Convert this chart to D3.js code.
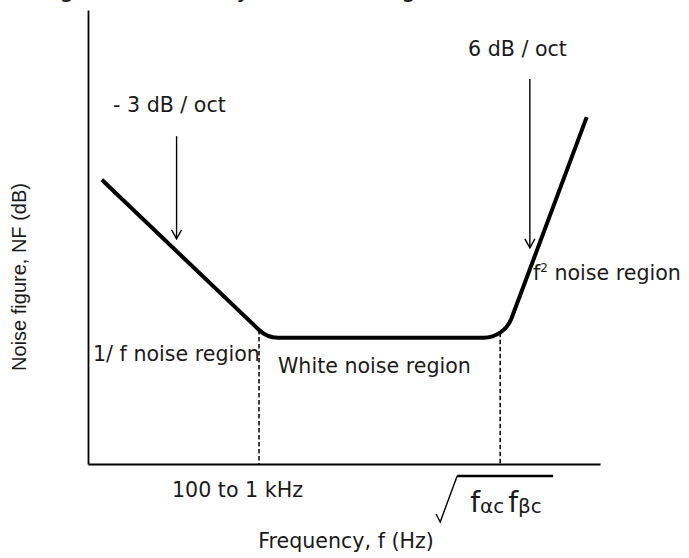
<!DOCTYPE html>
<html>
<head>
<meta charset="utf-8">
<script src="https://cdn.jsdelivr.net/npm/d3@7"></script>
<style>
  body { margin: 0; background: #fff; }
  text { font-family: "DejaVu Sans", Verdana, sans-serif; fill: #1a1a1a; }
</style>
</head>
<body>
<script>
// knees of the noise-figure curve (relative log-frequency, relative NF)
var curveX = [2.7, 35, 81.3, 97.4];
var curveY = [62.6, 27.8, 27.8, 76.4];
// corner frequencies marked with dashed drop lines
var cornerX = [33.4, 80.5];
var cornerLabels = ["100 to 1 kHz", "sqrt"];
// slope annotations: [x, yFrom, yTo]
var slopeArrows = [[17.3, 72.2, 49.6], [86.3, 84.8, 47.6]];
var slopeLabels = ["- 3 dB / oct", "6 dB / oct"];

var width = 689, height = 558;
var margin = { top: 10, right: 89, bottom: 94, left: 88 };

var x = d3.scaleLinear().domain([0, 100]).range([margin.left, width - margin.right]);
var y = d3.scaleLinear().domain([0, 100]).range([height - margin.bottom, margin.top]);

var svg = d3.select("body").append("svg")
    .attr("width", width)
    .attr("height", height);

// cropped caption from the page above, only the descenders show
svg.append("text")
    .attr("x", -30).attr("y", -3)
    .style("font-size", "24px")
    .text("Noise figure, NF and by the noise region");

// axes, no ticks
svg.append("g")
    .attr("transform", "translate(0," + y(0) + ")")
    .call(d3.axisBottom(x).tickValues([]).tickSizeOuter(0))
    .select(".domain").attr("stroke", "#000").attr("stroke-width", 1.8);

svg.append("g")
    .attr("transform", "translate(" + x(0) + ",0)")
    .call(d3.axisLeft(y).tickValues([]).tickSizeOuter(0))
    .select(".domain").attr("stroke", "#000").attr("stroke-width", 1.8);

// curve with rounded knees
var pts = curveX.map(function (d, i) { return [x(d), y(curveY[i])]; });
var p = d3.path();
p.moveTo(pts[0][0], pts[0][1]);
p.arcTo(pts[1][0], pts[1][1], pts[2][0], pts[2][1], 27);
p.arcTo(pts[2][0], pts[2][1], pts[3][0], pts[3][1], 30);
p.lineTo(pts[3][0], pts[3][1]);

var curve = svg.append("path")
    .attr("class", "nf-curve")
    .attr("d", p.toString())
    .attr("fill", "none")
    .attr("stroke", "#000")
    .attr("stroke-width", 4);

// find where the curve passes over a given x
function curveYAt(px) {
  var node = curve.node(), len = node.getTotalLength(), best = null;
  for (var l = 0; l <= len; l += 0.5) {
    var q = node.getPointAtLength(l);
    if (best === null || Math.abs(q.x - px) < Math.abs(best.x - px)) best = q;
  }
  return best.y;
}

svg.selectAll(".corner")
  .data(cornerX)
  .enter().insert("line", ".nf-curve")
    .attr("class", "corner")
    .attr("x1", function (d) { return x(d); })
    .attr("x2", function (d) { return x(d); })
    .attr("y1", function (d) { return curveYAt(x(d)); })
    .attr("y2", y(0))
    .attr("stroke", "#000")
    .attr("stroke-width", 1.5)
    .attr("stroke-dasharray", "4.5,2.5");

// slope arrows
slopeArrows.forEach(function (a) {
  var ax = x(a[0]), y1 = y(a[1]), y2 = y(a[2]);
  svg.append("line")
      .attr("x1", ax).attr("x2", ax)
      .attr("y1", y1).attr("y2", y2)
      .attr("stroke", "#000").attr("stroke-width", 1.4);
  svg.append("path")
      .attr("d", "M" + (ax - 5) + "," + (y2 - 9) + "L" + ax + "," + y2 + "L" + (ax + 5) + "," + (y2 - 9))
      .attr("fill", "none").attr("stroke", "#000").attr("stroke-width", 1.4);
});

var fs = "20.6px";
function label(tx, ty, s) {
  return svg.append("text").attr("x", tx).attr("y", ty).style("font-size", fs).text(s);
}

label(113, 112, slopeLabels[0]);
label(468, 56, slopeLabels[1]);
label(93, 361, "1/ f noise region");
label(278, 373, "White noise region");
label(172, 497, cornerLabels[0]);

var f2 = svg.append("text").attr("x", 533).attr("y", 280).style("font-size", fs);
f2.append("tspan").text("f");
f2.append("tspan").attr("dy", -8).style("font-size", "12px").text("2");
f2.append("tspan").attr("dy", 8).text(" noise region");

// square root of f_ac * f_bc
var rx = x(cornerX[1]);
svg.append("path")
    .attr("d", "M" + (rx - 64) + ",514L" + (rx - 60) + ",522L" + (rx - 43) + ",476")
    .attr("fill", "none").attr("stroke", "#000").attr("stroke-width", 1.4);
svg.append("line")
    .attr("x1", rx - 43).attr("x2", rx + 53)
    .attr("y1", 476).attr("y2", 476)
    .attr("stroke", "#000").attr("stroke-width", 2.6);
var sq = svg.append("text").attr("x", rx - 30).attr("y", 512);
sq.append("tspan").style("font-size", "28px").text("f");
sq.append("tspan").style("font-size", "20px").attr("dy", 1).text("\u03b1c");
sq.append("tspan").style("font-size", "28px").attr("dx", 4).attr("dy", -1).text("f");
sq.append("tspan").style("font-size", "20px").attr("dy", 1).text("\u03b2c");

// axis titles
svg.append("text")
    .attr("x", 346).attr("y", 548)
    .attr("text-anchor", "middle")
    .style("font-size", fs)
    .text("Frequency, f (Hz)");

svg.append("text")
    .attr("transform", "translate(26,277) rotate(-90)")
    .attr("text-anchor", "middle")
    .style("font-family", "'Liberation Sans', Arial, sans-serif")
    .style("font-size", "20px")
    .text("Noise figure, NF (dB)");
</script>
</body>
</html>
